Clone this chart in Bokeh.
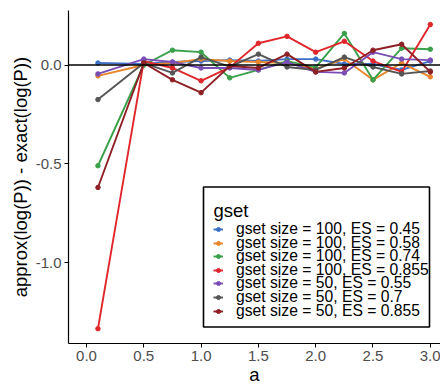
from bokeh.plotting import figure
from bokeh.models import (Span, FixedTicker, NumeralTickFormatter, Range1d, Legend, LegendItem,
                          BoxAnnotation, Label)
from bokeh.embed import file_html
from bokeh.resources import INLINE

# ---- data ----
a_values = [0.1, 0.5, 0.75, 1.0, 1.25, 1.5, 1.75, 2.0, 2.25, 2.5, 2.75, 3.0]

series_names = [
    "gset size = 100, ES = 0.45",
    "gset size = 100, ES = 0.58",
    "gset size = 100, ES = 0.74",
    "gset size = 100, ES = 0.855",
    "gset size = 50, ES = 0.55",
    "gset size = 50, ES = 0.7",
    "gset size = 50, ES = 0.855",
]

s100_045 = [0.01, 0.005, 0.015, 0.02, 0.025, 0.02, 0.03, 0.03, 0.005, 0.005, -0.025, 0.02]
s100_058 = [-0.055, 0.0, 0.01, 0.03, 0.02, 0.015, 0.01, -0.02, 0.03, -0.075, 0.01, -0.06]
s100_074 = [-0.51, 0.0, 0.075, 0.065, -0.065, -0.025, 0.02, -0.012, 0.16, -0.075, 0.085, 0.08]
s100_0855 = [-1.335, 0.02, -0.015, -0.08, -0.012, 0.11, 0.145, 0.065, 0.12, 0.02, -0.035, 0.205]
s50_055 = [-0.045, 0.03, 0.015, -0.015, -0.015, -0.025, 0.015, -0.035, -0.04, 0.065, 0.03, 0.025]
s50_07 = [-0.175, 0.01, -0.04, 0.04, -0.008, 0.055, -0.01, -0.025, 0.04, -0.01, -0.045, -0.03]
s50_0855 = [-0.62, 0.01, -0.075, -0.14, -0.005, -0.015, 0.055, -0.035, -0.015, 0.075, 0.105, -0.035]

series_values = [s100_045, s100_058, s100_074, s100_0855, s50_055, s50_07, s50_0855]
series_colors = ["#3E6FC7", "#E8862C", "#3BA04A", "#E0262B", "#7A4EB6", "#555555", "#8E1F24"]

x_ticks = [0.0, 0.5, 1.0, 1.5, 2.0, 2.5, 3.0]
y_ticks = [-1.0, -0.5, 0.0]
legend_title = "gset"

FONT = "Liberation Sans"

p = figure(width=440, height=387, output_backend="svg", toolbar_location=None,
           x_range=Range1d(-0.157, 3.089), y_range=Range1d(-1.41, 0.276),
           min_border_left=68, min_border_right=0, min_border_top=10, min_border_bottom=41,
           x_axis_label="a", y_axis_label="approx(log(P)) - exact(log(P))")

p.outline_line_color = None
p.xgrid.visible = False
p.ygrid.visible = False
p.background_fill_color = "white"
p.border_fill_color = "white"

renderers = []
for name, vals, col in zip(series_names, series_values, series_colors):
    r1 = p.line(a_values, vals, line_color=col, line_width=1.9)
    r2 = p.scatter(a_values, vals, marker="circle", size=4.5, fill_color=col, line_color=col)
    renderers.append((r1, r2))

p.add_layout(Span(location=0, dimension="width", line_color="black", line_width=1.6))

for ax in (p.xaxis, p.yaxis):
    ax.axis_line_color = "black"
    ax.axis_line_width = 1.2
    ax.major_tick_line_color = "black"
    ax.major_tick_out = 4
    ax.major_tick_in = 0
    ax.minor_tick_out = 0
    ax.minor_tick_in = 0
    ax.major_label_text_font = FONT
    ax.major_label_text_font_size = "15px"
    ax.major_label_text_color = "#4D4D4D"
    ax.axis_label_text_font = FONT
    ax.axis_label_text_font_size = "18.5px"
    ax.axis_label_text_font_style = "normal"
    ax.axis_label_text_color = "black"
    ax.major_label_standoff = 3
    ax.axis_label_standoff = 2

p.xaxis.ticker = FixedTicker(ticks=x_ticks)
p.yaxis.ticker = FixedTicker(ticks=y_ticks)
p.xaxis.formatter = NumeralTickFormatter(format="0.0")
p.yaxis.formatter = NumeralTickFormatter(format="0.0")
p.xaxis.axis_label_standoff = 0

# ---- legend (box + title + tightly packed entries, frame-relative screen units) ----
box = BoxAnnotation(left=135, right=361, bottom=16.5, top=156.5,
                    left_units="screen", right_units="screen",
                    bottom_units="screen", top_units="screen",
                    fill_color="white", fill_alpha=1.0,
                    line_color="black", line_alpha=1.0, line_width=1.6, level="annotation")
p.add_layout(box)

p.add_layout(Label(x=145, y=133.5, x_units="screen", y_units="screen", text=legend_title,
                   text_font=FONT, text_font_size="18.5px", text_color="black",
                   text_baseline="alphabetic", text_align="left"))

first_center = 113.5
pitch = 13.6
for i, (name, (r1, r2)) in enumerate(zip(series_names, renderers)):
    cy = first_center - i * pitch
    lg = Legend(items=[LegendItem(label=name, renderers=[r1, r2])],
                location=(145, cy - 8.5),
                label_text_font=FONT, label_text_font_size="15.7px", label_text_color="black",
                border_line_color=None, background_fill_alpha=0.0,
                glyph_width=10, glyph_height=10, label_height=10, label_standoff=13,
                spacing=0, padding=0, margin=0)
    p.add_layout(lg)

open("out.html", "w").write(file_html(p, INLINE))
